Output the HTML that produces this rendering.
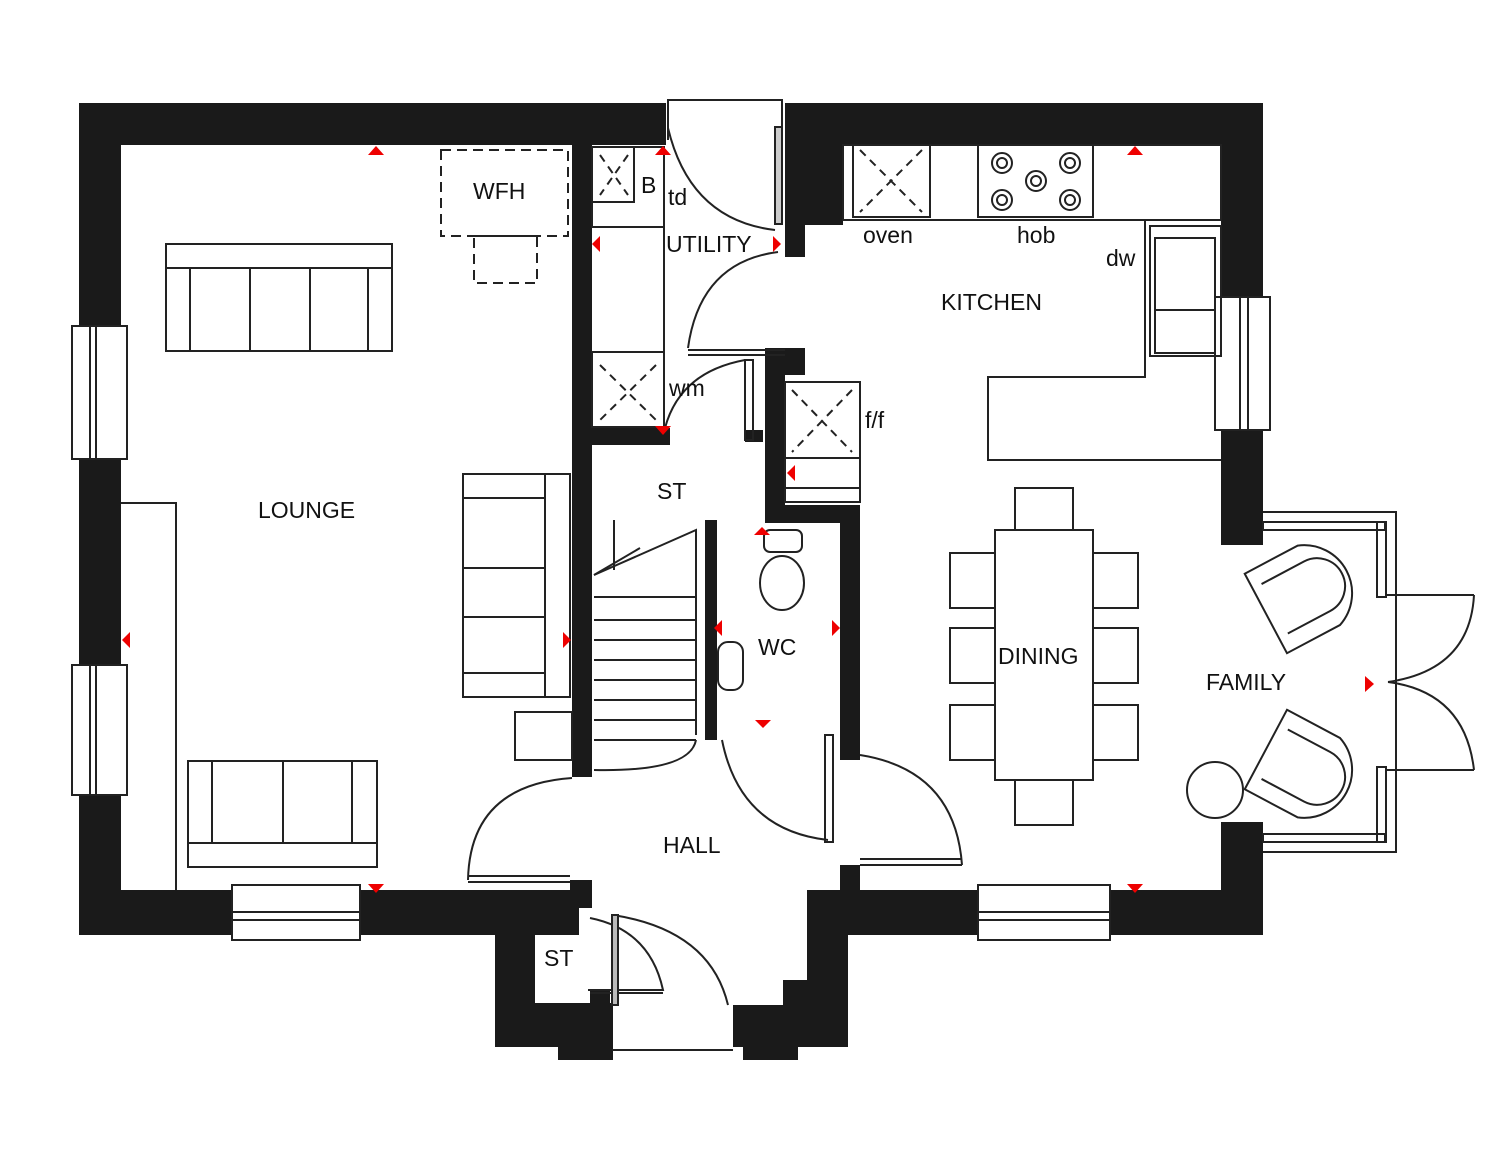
<!DOCTYPE html>
<html><head><meta charset="utf-8"><style>
html,body{margin:0;padding:0;background:#fff;}
svg{display:block}
text{font-family:"Liberation Sans",sans-serif;font-size:23px;fill:#111;}
</style></head><body>
<svg width="1500" height="1151" viewBox="0 0 1500 1151" xmlns="http://www.w3.org/2000/svg">
<g fill="#1a1a1a">
<!-- top left wall -->
<rect x="79" y="103" width="587" height="42"/>
<rect x="79" y="103" width="42" height="832"/>
<rect x="79" y="890" width="500" height="45"/>
<rect x="570" y="880" width="22" height="28"/>
<!-- porch left -->
<rect x="495" y="890" width="40" height="157"/>
<rect x="495" y="1003" width="118" height="44"/>
<rect x="558" y="1003" width="55" height="57"/>
<rect x="535" y="912" width="43" height="8"/>
<rect x="590" y="990" width="20" height="20"/>
<!-- porch right -->
<rect x="733" y="1005" width="115" height="42"/>
<rect x="743" y="1005" width="55" height="55"/>
<rect x="783" y="980" width="65" height="67"/>
<rect x="807" y="893" width="41" height="154"/>
<rect x="807" y="890" width="456" height="45"/>
<rect x="840" y="865" width="20" height="30"/>
<!-- top right -->
<rect x="785" y="103" width="478" height="42"/>
<rect x="785" y="103" width="58" height="122"/>
<rect x="785" y="225" width="20" height="32"/>
<rect x="1221" y="103" width="42" height="442"/>
<rect x="1221" y="822" width="42" height="113"/>
<!-- interior -->
<rect x="572" y="145" width="20" height="632"/>
<rect x="592" y="428" width="78" height="17"/>
<rect x="765" y="348" width="40" height="27"/>
<rect x="765" y="348" width="20" height="172"/>
<rect x="765" y="505" width="95" height="18"/>
<rect x="840" y="505" width="20" height="255"/>
<rect x="705" y="520" width="12" height="220"/>
<rect x="745" y="430" width="18" height="12"/>
</g>
<g fill="#fff" stroke="#222" stroke-width="2">
<!-- windows -->
<rect x="72" y="326" width="55" height="133"/><line x1="90" y1="326" x2="90" y2="459"/><line x1="96" y1="326" x2="96" y2="459"/>
<rect x="72" y="665" width="55" height="130"/><line x1="90" y1="665" x2="90" y2="795"/><line x1="96" y1="665" x2="96" y2="795"/>
<rect x="232" y="885" width="128" height="55"/><line x1="232" y1="912" x2="360" y2="912"/><line x1="232" y1="920" x2="360" y2="920"/>
<rect x="978" y="885" width="132" height="55"/><line x1="978" y1="912" x2="1110" y2="912"/><line x1="978" y1="920" x2="1110" y2="920"/>
<rect x="1215" y="297" width="55" height="133"/><line x1="1240" y1="297" x2="1240" y2="430"/><line x1="1248" y1="297" x2="1248" y2="430"/>
<!-- back door -->
<rect x="666" y="99" width="118" height="42" stroke="none"/>
<polyline points="668,140 668,100 782,100 782,140" fill="none"/>
<rect x="775" y="127" width="7" height="97" fill="#ccc"/>
</g>
<g fill="none" stroke="#222" stroke-width="2">
<path d="M668,128 Q690,220 775,230"/>
<!-- utility units -->
<rect x="592" y="147" width="72" height="80"/><rect x="592" y="147" width="42" height="55"/>
<line x1="592" y1="227" x2="664" y2="227"/><line x1="664" y1="227" x2="664" y2="425"/>
<rect x="592" y="352" width="72" height="75"/><line x1="592" y1="427" x2="664" y2="427"/>
<path d="M600,155 L628,195 M628,155 L600,195 M600,365 L656,420 M656,365 L600,420" stroke-dasharray="8,6"/>
<!-- utility/kitchen door -->
<path d="M778,252 Q700,262 688,348"/><line x1="688" y1="350" x2="785" y2="350" /><line x1="688" y1="355" x2="785" y2="355"/>
<!-- wm door -->
<path d="M665,428 Q680,372 745,360"/><rect x="745" y="360" width="8" height="80"/>
<!-- kitchen units -->
<rect x="843" y="145" width="378" height="75"/>
<rect x="853" y="145" width="77" height="72"/><path d="M860,150 L922,212 M922,150 L860,212" stroke-dasharray="8,6"/>
<rect x="978" y="145" width="115" height="72"/>
<circle cx="1002" cy="163" r="10"/><circle cx="1036" cy="181" r="10"/><circle cx="1070" cy="163" r="10"/><circle cx="1002" cy="200" r="10"/><circle cx="1070" cy="200" r="10"/>
<circle cx="1002" cy="163" r="5"/><circle cx="1036" cy="181" r="5"/><circle cx="1070" cy="163" r="5"/><circle cx="1002" cy="200" r="5"/><circle cx="1070" cy="200" r="5"/>
<polyline points="1145,220 1145,377 988,377 988,460 1221,460"/>
<rect x="1150" y="226" width="71" height="130"/><rect x="1155" y="238" width="60" height="115"/><line x1="1155" y1="310" x2="1215" y2="310"/>
<!-- ff -->
<rect x="785" y="382" width="75" height="120"/><line x1="785" y1="458" x2="860" y2="458"/><line x1="785" y1="488" x2="860" y2="488"/>
<path d="M792,390 L852,452 M852,390 L792,452" stroke-dasharray="8,6"/>
<!-- WFH -->
<rect x="441" y="150" width="127" height="86" stroke-dasharray="10,6"/>
<rect x="474" y="236" width="63" height="47" stroke-dasharray="10,6"/>
<!-- sofas -->
<rect x="166" y="244" width="226" height="107"/><line x1="166" y1="268" x2="392" y2="268"/>
<line x1="190" y1="268" x2="190" y2="351"/><line x1="250" y1="268" x2="250" y2="351"/><line x1="310" y1="268" x2="310" y2="351"/><line x1="368" y1="268" x2="368" y2="351"/>
<rect x="188" y="761" width="189" height="106"/><line x1="188" y1="843" x2="377" y2="843"/>
<line x1="212" y1="761" x2="212" y2="843"/><line x1="283" y1="761" x2="283" y2="843"/><line x1="352" y1="761" x2="352" y2="843"/>
<rect x="463" y="474" width="107" height="223"/><line x1="545" y1="474" x2="545" y2="697"/>
<line x1="463" y1="498" x2="545" y2="498"/><line x1="463" y1="568" x2="545" y2="568"/><line x1="463" y1="617" x2="545" y2="617"/><line x1="463" y1="673" x2="545" y2="673"/>
<rect x="515" y="712" width="57" height="48"/>
<polyline points="121,503 176,503 176,890"/>
<!-- stairs -->
<polyline points="594,575 696,530 696,735"/>
<line x1="594" y1="575" x2="640" y2="548"/>
<line x1="594" y1="597" x2="696" y2="597"/><line x1="594" y1="620" x2="696" y2="620"/><line x1="594" y1="640" x2="696" y2="640"/>
<line x1="594" y1="660" x2="696" y2="660"/><line x1="594" y1="680" x2="696" y2="680"/><line x1="594" y1="700" x2="696" y2="700"/>
<line x1="594" y1="720" x2="696" y2="720"/><line x1="594" y1="740" x2="696" y2="740"/><line x1="614" y1="570" x2="614" y2="520"/>
<path d="M594,770 Q690,772 696,740"/>
<!-- WC -->
<ellipse cx="782" cy="583" rx="22" ry="27"/><rect x="764" y="530" width="38" height="22" rx="6"/>
<rect x="718" y="642" width="25" height="48" rx="10"/>
<path d="M722,740 Q740,830 828,840"/><rect x="825" y="735" width="8" height="107"/>
<!-- hall doors -->
<path d="M468,880 Q470,785 572,778"/><line x1="468" y1="882" x2="570" y2="882"/><line x1="468" y1="876" x2="570" y2="876"/>
<path d="M860,755 Q955,770 962,865"/><line x1="860" y1="865" x2="962" y2="865"/><line x1="860" y1="859" x2="962" y2="859"/>
<!-- porch doors -->
<path d="M590,918 Q650,930 663,990 L588,990"/><line x1="590" y1="993" x2="663" y2="993"/>
<path d="M613,915 Q710,930 728,1005"/><rect x="612" y="915" width="6" height="90" fill="#bbb"/>
<line x1="612" y1="1050" x2="733" y2="1050"/>
<!-- dining -->
<rect x="995" y="530" width="98" height="250"/>
<rect x="1015" y="488" width="58" height="42"/><rect x="1015" y="780" width="58" height="45"/>
<rect x="950" y="553" width="45" height="55"/><rect x="950" y="628" width="45" height="55"/><rect x="950" y="705" width="45" height="55"/>
<rect x="1093" y="553" width="45" height="55"/><rect x="1093" y="628" width="45" height="55"/><rect x="1093" y="705" width="45" height="55"/>
<!-- bay -->
<polyline points="1263,512 1396,512 1396,852 1263,852"/>
<rect x="1263" y="522" width="122" height="8"/><rect x="1263" y="834" width="122" height="8"/>
<rect x="1377" y="522" width="9" height="75"/><rect x="1377" y="767" width="9" height="75"/>
<line x1="1386" y1="595" x2="1474" y2="595"/><path d="M1474,595 Q1470,670 1388,682"/>
<line x1="1386" y1="770" x2="1474" y2="770"/><path d="M1474,770 Q1465,692 1388,682"/>
<!-- chairs -->
<g transform="translate(1310,590) rotate(-28)"><path d="M-50,-45 L10,-45 A48,48 0 0 1 10,45 L-50,45 Z"/><path d="M-40,-28 L8,-28 A28,28 0 0 1 8,28 L-40,28"/></g>
<g transform="translate(1310,773) rotate(28)"><path d="M-50,-45 L10,-45 A48,48 0 0 1 10,45 L-50,45 Z"/><path d="M-40,-28 L8,-28 A28,28 0 0 1 8,28 L-40,28"/></g>
<circle cx="1215" cy="790" r="28"/>
</g>
<g fill="#e00">
<path d="M368,155 L384,155 L376,146Z"/><path d="M1127,155 L1143,155 L1135,146Z"/><path d="M655,155 L671,155 L663,146Z"/>
<path d="M368,884 L384,884 L376,893Z"/><path d="M1127,884 L1143,884 L1135,893Z"/>
<path d="M130,632 L130,648 L122,640Z"/><path d="M563,632 L563,648 L571,640Z"/><path d="M1365,676 L1365,692 L1374,684Z"/>
<path d="M600,236 L600,252 L592,244Z"/><path d="M773,236 L773,252 L781,244Z"/><path d="M655,426 L671,426 L663,435Z"/>
<path d="M795,465 L795,481 L787,473Z"/><path d="M722,620 L722,636 L714,628Z"/><path d="M832,620 L832,636 L840,628Z"/>
<path d="M755,720 L771,720 L763,728Z"/><path d="M754,535 L770,535 L762,527Z"/>
</g>
<text x="473" y="199">WFH</text>
<text x="258" y="518">LOUNGE</text>
<text x="641" y="193" font-size="22">B</text>
<text x="668" y="205">td</text>
<text x="666" y="252">UTILITY</text>
<text x="669" y="396">wm</text>
<text x="863" y="243">oven</text>
<text x="1017" y="243">hob</text>
<text x="1106" y="266">dw</text>
<text x="941" y="310">KITCHEN</text>
<text x="865" y="428">f/f</text>
<text x="657" y="499">ST</text>
<text x="758" y="655">WC</text>
<text x="998" y="664">DINING</text>
<text x="1206" y="690">FAMILY</text>
<text x="663" y="853">HALL</text>
<text x="544" y="966">ST</text>
</svg>
</body></html>
